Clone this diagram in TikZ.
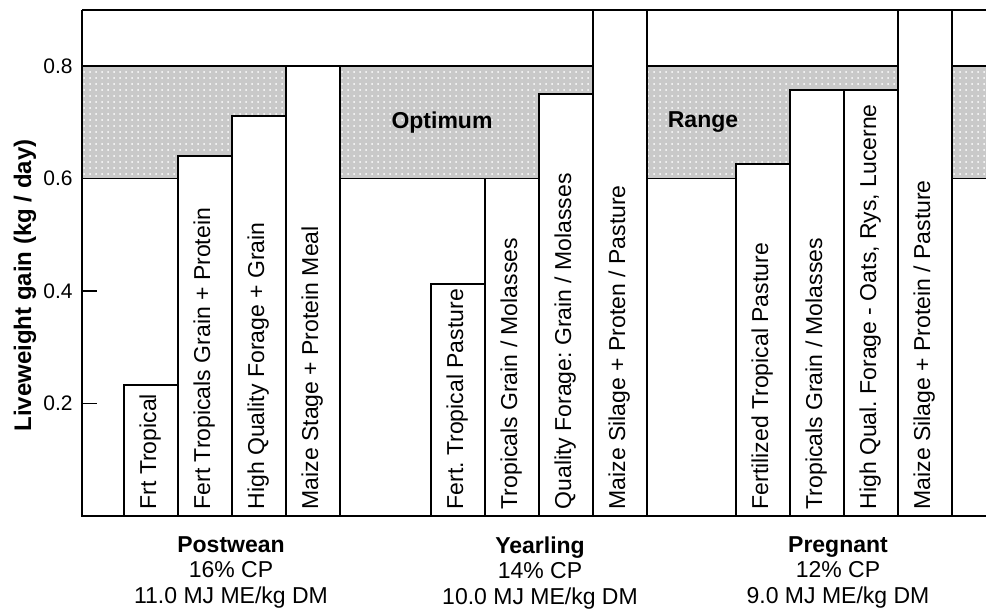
\documentclass[tikz,border=0pt]{standalone}
\usepackage{fontspec}
\setmainfont{Liberation Sans}
\usetikzlibrary{patterns}
\frenchspacing
\begin{document}
\begin{tikzpicture}[line join=miter, x=0.5pt, y=281.25pt,
	frame/.style={line width=0.9pt},
	bar/.style={draw, fill=white, line width=0.9pt},
	barlabel/.style={rotate=90, anchor=west, inner sep=0pt, text height=0.72em, text depth=0.2em, font=\fontsize{11.5}{13}\selectfont},
	ticklabel/.style={anchor=east, inner sep=0pt, font=\fontsize{10.5}{12}\selectfont},
	grouplabel/.style={anchor=north, inner sep=0pt, align=center, font=\fontsize{11.5}{12.75}\selectfont},
	bandlabel/.style={inner sep=0pt, font=\fontsize{11.5}{13}\selectfont\bfseries}]
	\useasboundingbox (0,-0.1707) rectangle (986,0.9173);

	% optimum range band
	\path[fill=black!21, postaction={pattern=dots, pattern color=white}] (82,0.6) rectangle (986,0.8);
	\draw[frame] (82,0.6)--(986,0.6);
	\draw[frame] (82,0.8)--(986,0.8);
	\draw[frame] (82,0.9)--(986,0.9);
	\draw[frame] (82,0.9)--(82,0)--(986,0);

	\foreach \v/\n in {0.2/2,0.4/4,0.6/6,0.8/8}{
		\draw[frame] (82,\v)--(97,\v);
		\node[ticklabel] (tick\n) at (73,\v) {\v};
	}
	\node[rotate=90, inner sep=0pt, font=\fontsize{12}{14}\selectfont\bfseries] (ylab) at (25,0.41) {Liveweight gain (kg / day)};

	% postwean
	\draw[bar] (124,0) rectangle (178,0.233);
	\node[barlabel] (pw1) at (151,0.011) {Frt Tropical};
	\draw[bar] (178,0) rectangle (232,0.64);
	\node[barlabel] (pw2) at (205,0.011) {Fert Tropicals Grain + Protein};
	\draw[bar] (232,0) rectangle (286,0.711);
	\node[barlabel] (pw3) at (259,0.011) {High Quality Forage + Grain};
	\draw[bar] (286,0) rectangle (340,0.8);
	\node[barlabel] (pw4) at (313,0.011) {Maize Stage + Protein Meal};

	% yearling
	\draw[bar] (431,0) rectangle (485,0.412);
	\node[barlabel] (yr1) at (458,0.011) {Fert. Tropical Pasture};
	\draw[bar] (485,0) rectangle (539,0.6);
	\node[barlabel] (yr2) at (512,0.011) {Tropicals Grain / Molasses};
	\draw[bar] (539,0) rectangle (593,0.75);
	\node[barlabel] (yr3) at (566,0.011) {Quality Forage: Grain / Molasses};
	\draw[bar] (593,0) rectangle (647,0.9);
	\node[barlabel] (yr4) at (620,0.011) {Maize Silage + Proten / Pasture};

	% pregnant
	\draw[bar] (736,0) rectangle (790,0.626);
	\node[barlabel] (pg1) at (763,0.011) {Fertilized Tropical Pasture};
	\draw[bar] (790,0) rectangle (844,0.757);
	\node[barlabel] (pg2) at (817,0.011) {Tropicals Grain / Molasses};
	\draw[bar] (844,0) rectangle (898,0.757);
	\node[barlabel] (pg3) at (871,0.011) {High Qual. Forage - Oats, Rys, Lucerne};
	\draw[bar] (898,0) rectangle (952,0.9);
	\node[barlabel] (pg4) at (925,0.011) {Maize Silage + Protein / Pasture};

	\node[bandlabel] (optimum) at (442,0.7) {Optimum};
	\node[bandlabel] (range) at (703,0.7) {Range};

	\node[grouplabel] (postwean) at (231,-0.036) {{\bfseries Postwean}\\16\% CP\\11.0 MJ ME/kg DM};
	\node[grouplabel] (yearling) at (540,-0.036) {{\bfseries Yearling}\\14\% CP\\10.0 MJ ME/kg DM};
	\node[grouplabel] (pregnant) at (838,-0.036) {{\bfseries Pregnant}\\12\% CP\\9.0 MJ ME/kg DM};
\end{tikzpicture}
\end{document}
